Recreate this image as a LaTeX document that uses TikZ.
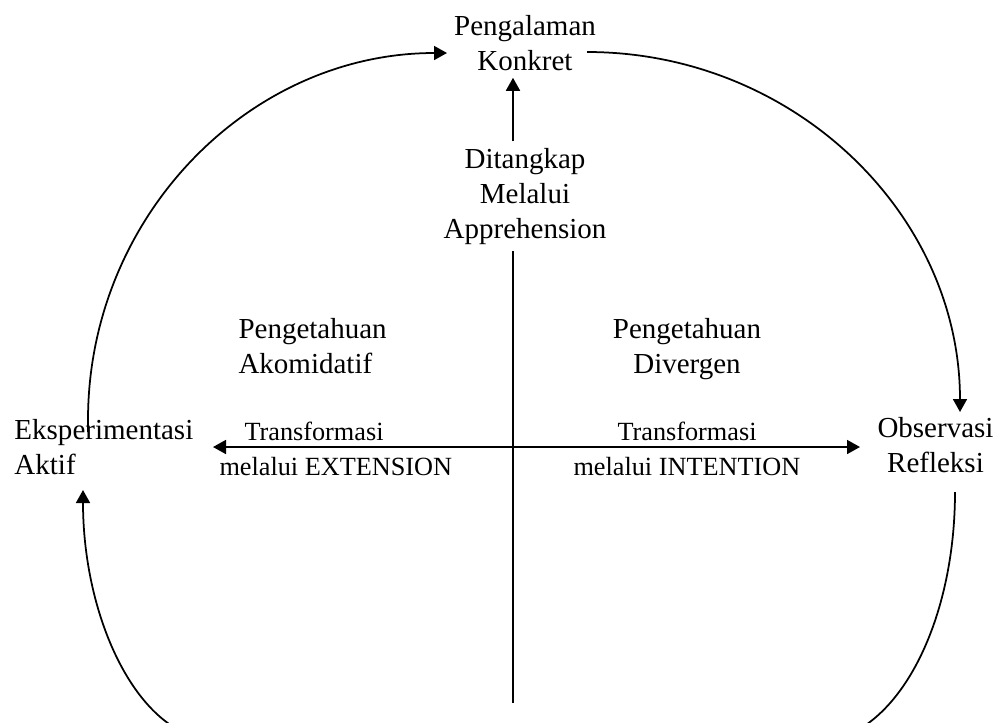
\documentclass[tikz,border=0pt]{standalone}
\usepackage{fontspec}
\setmainfont{Liberation Serif}
\usetikzlibrary{arrows.meta}
\begin{document}
\begin{tikzpicture}[x=0.4pt,y=-0.4pt,
  lbl/.style={inner sep=0pt, font=\fontsize{11.6}{14}\selectfont},
  sml/.style={inner sep=0pt, font=\fontsize{10.5}{14}\selectfont},
  conn/.style={line width=0.7pt},
  tip/.style={-{Triangle[length=5.2pt,width=5.6pt]}},
  tips/.style={{Triangle[length=5.2pt,width=5.6pt]}-{Triangle[length=5.2pt,width=5.6pt]}},
]
\useasboundingbox (0,0) rectangle (1001,722);
\clip (0,0) rectangle (1001,722);

% stage labels (positioned by the baseline of their last line)
\node[lbl, anchor=base, align=center] (pk) at (525,70) {Pengalaman\\Konkret};
\node[lbl, anchor=base west, align=left] (eks) at (14,474) {Eksperimentasi\\Aktif};
\node[lbl, anchor=base, align=center] (obs) at (935.5,472) {Observasi\\Refleksi};
\node[lbl, anchor=base, align=center] (dit) at (525,238) {Ditangkap\\Melalui\\Apprehension};

% quadrant labels
\node[lbl, anchor=base west, align=left] (akm) at (238,373) {Pengetahuan\\Akomidatif};
\node[lbl, anchor=base, align=center] (div) at (687,373) {Pengetahuan\\Divergen};

% transformation labels
\node[sml, anchor=base west] (tl1) at (244,440) {Transformasi};
\node[sml, anchor=base west] (tl2) at (219,475) {melalui EXTENSION};
\node[sml, anchor=base west] (tr1) at (617,440) {Transformasi};
\node[sml, anchor=base west] (tr2) at (573,475) {melalui INTENTION};

% axes
\coordinate (axL) at (213,447);
\coordinate (axR) at (860,447);
\coordinate (axB) at (513,703);
\draw[conn, tips] (axL) -- (axR);
\draw[conn] (axB) -- ([yshift=-2.4pt]axB |- dit.south);
\draw[conn, tip] ([yshift=2.4pt]axB |- dit.north) -- ([yshift=-2.8pt]axB |- pk.south);

% cycle arcs
\coordinate (tlS) at (88,432);
\coordinate (trS) at (587,52);
\coordinate (brS) at (955,492);
\coordinate (blS) at (174.9,727.8);
\draw[conn, tip] (tlS) -- ++(0,-12) arc[start angle=180, end angle=270, x radius=359, y radius=367];
\draw[conn, tip] (trS) arc[start angle=270, end angle=360, x radius=373, y radius=360];
\draw[conn] (brS) arc[start angle=0, end angle=72, x radius=140, y radius=250];
\draw[conn, tip] (blS) arc[start angle=108, end angle=180, x radius=133, y radius=250];
\end{tikzpicture}
\end{document}
